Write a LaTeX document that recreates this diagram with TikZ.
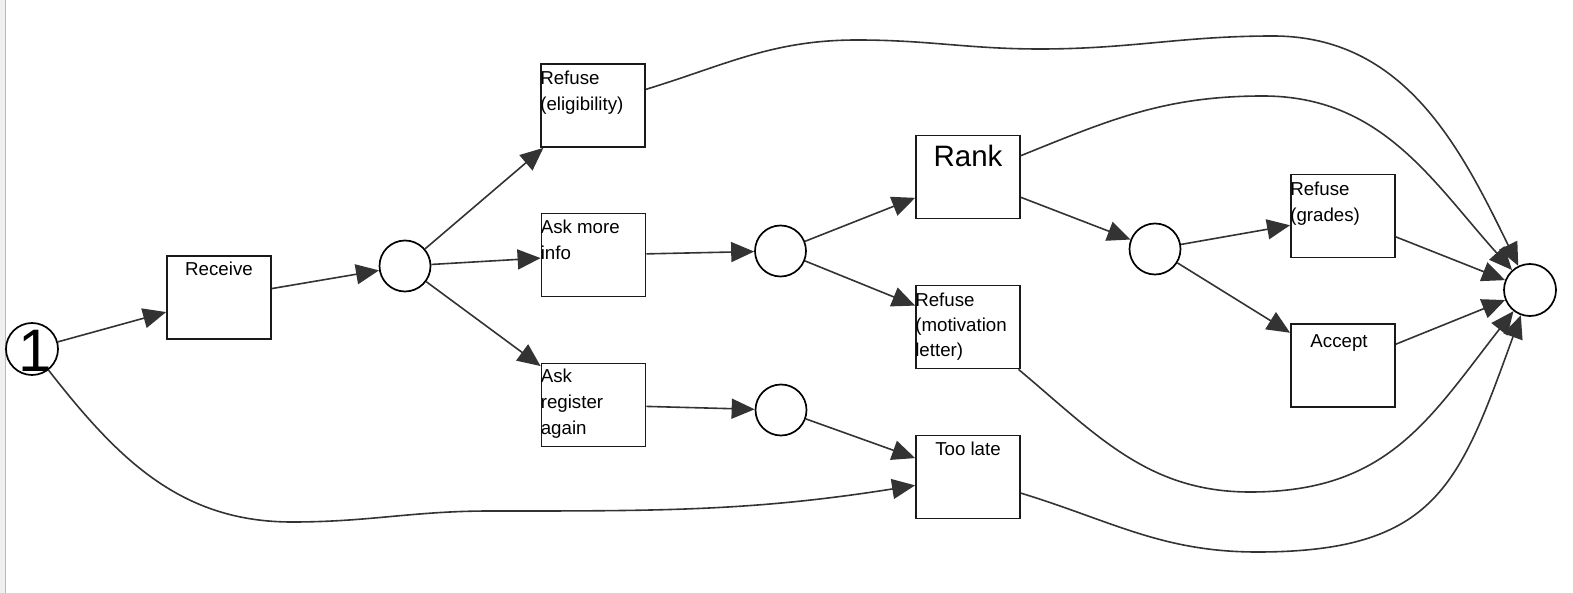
\documentclass[tikz,border=0pt]{standalone}
\usepackage{fontspec}
\setmainfont{Liberation Sans}
\usetikzlibrary{arrows.meta}
\definecolor{lncol}{HTML}{333333}
\definecolor{bdcol}{HTML}{1A1A1A}
\newcommand{\firstln}{\rule{0pt}{14pt}}
\begin{document}
\begin{tikzpicture}[x=1pt,y=1pt,
  box/.style={draw=bdcol, line width=1.8pt, minimum width=104pt, minimum height=83pt, inner sep=0pt, fill=white},
  place/.style={circle, draw=black, line width=1.7pt, minimum size=51pt, inner sep=0pt, fill=white},
  conn/.style={draw=lncol, line width=1.6pt, -{Triangle[length=23pt,width=20pt]}},
  ltxt/.style={font=\fontsize{18.7}{26}\selectfont, inner sep=0pt, align=left, anchor=north west, yshift=-7pt},
  ctxt/.style={font=\fontsize{18.7}{26}\selectfont, inner sep=0pt, anchor=base},
]
\useasboundingbox (0,0) rectangle (1573,-593);
\fill[gray!12] (0,0) rectangle (5,-593);
\draw[gray!55, line width=1pt] (5.5,0) -- (5.5,-593);

% places
\node[place, minimum size=52pt, label={[font=\fontsize{60}{60}\selectfont, inner sep=0pt, xshift=3pt, yshift=-2pt]center:1}] (c1) at (32,-349) {};
\node[place] (p1) at (405,-266) {};
\node[place] (p2) at (780.5,-251) {};
\node[place] (p3) at (781,-410) {};
\node[place] (p4) at (1155,-249) {};
\node[place, minimum size=52pt] (fin) at (1530,-290) {};

% transitions
\node[box, label={[ctxt, yshift=-20pt]north:Receive}] (receive) at (219,-297.5) {};
\node[box, label={[ltxt]north west:{\firstln Refuse\\(eligibility)}}] (refel) at (593,-105.5) {};
\node[box, label={[ltxt]north west:{\firstln Ask more\\info}}] (askmore) at (593.5,-255) {};
\node[box, label={[ltxt, yshift=1pt]north west:{\firstln Ask\\register\\again}}] (askreg) at (593.5,-405) {};
\node[box, label={[ctxt, font=\fontsize{29.5}{32}\selectfont, yshift=-32pt]north:Rank}] (rank) at (968,-177) {};
\node[box, label={[ltxt, yshift=-1pt, font=\fontsize{18.7}{25}\selectfont]north west:{\firstln Refuse\\(motivation\\letter)}}] (refmot) at (968,-327) {};
\node[box, label={[ctxt, yshift=-21pt]north:Too late}] (toolate) at (968,-477) {};
\node[box, label={[ltxt, yshift=-1pt]north west:{\firstln Refuse\\(grades)}}] (refgr) at (1343,-216) {};
\node[box, label={[ctxt, xshift=-4pt, yshift=-24pt]north:Accept}] (accept) at (1343,-365.5) {};

% waypoints of the long arcs
\coordinate (a1) at (857,-40);
\coordinate (a2) at (1040,-49);
\coordinate (a3) at (1273,-36);
\coordinate (b1) at (1263,-96);
\coordinate (m1) at (1250,-492);
\coordinate (t1) at (1257,-552);
\coordinate (s1) at (292,-522);
\coordinate (s2) at (490,-511);

% straight arcs
\draw[conn] (c1) -- (receive);
\draw[conn] (receive) -- (p1);
\draw[conn] (p1) -- (refel);
\draw[conn] (p1) -- (askmore);
\draw[conn] (p1) -- (askreg);
\draw[conn] (askmore) -- (p2);
\draw[conn] (askreg) -- (p3);
\draw[conn] (p2) -- (rank);
\draw[conn] (p2) -- (refmot);
\draw[conn] (p3) -- (toolate);
\draw[conn] (rank) -- (p4);
\draw[conn] (p4) -- (refgr);
\draw[conn] (p4) -- (accept);
\draw[conn] (refgr) -- (fin);
\draw[conn] (accept) -- (fin);

% curved arcs
\draw[conn] (refel) to[out=17,in=180] (a1) to[out=0,in=180] (a2) to[out=0,in=180] (a3) to[out=0,in=116] (fin);
\draw[conn] (rank) to[out=22,in=180] (b1) to[out=0,in=132] (fin);
\draw[conn] (refmot) to[out=-40,in=180] (m1) to[out=0,in=232,looseness=1.1] (fin);
\draw[conn] (toolate) to[out=-17,in=180] (t1) to[out=0,in=250,looseness=1.3] (fin);
\draw[conn] (c1) to[out=-52,in=180] (s1) to[out=0,in=180] (s2) to[out=0,in=189] (toolate);
\end{tikzpicture}
\end{document}
